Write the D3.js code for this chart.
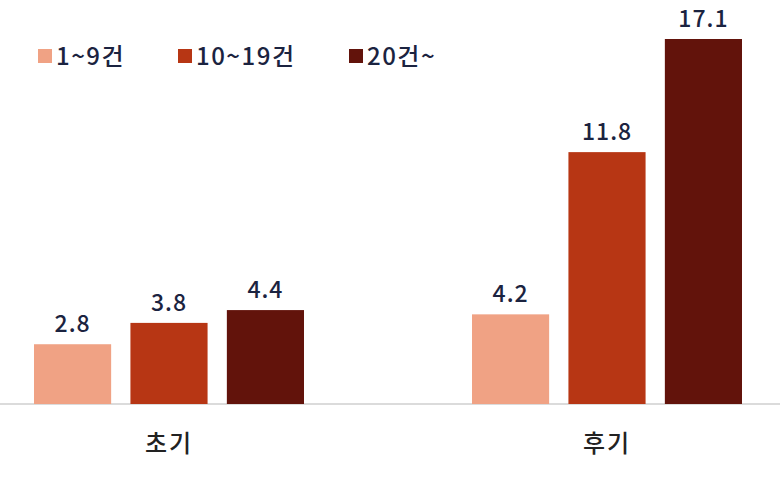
<!DOCTYPE html>
<html><head><meta charset="utf-8">
<script src="https://cdn.jsdelivr.net/npm/d3@7"></script>
<style>body{margin:0;background:#fff}</style>
</head><body>
<svg id="c" width="780" height="480"></svg>
<script>
var groups = ["초기", "후기"];
var series = ["1~9건", "10~19건", "20건~"];
var values = [[2.8, 3.8, 4.4], [4.2, 11.8, 17.1]];
var colors = ["#F0A284", "#B73614", "#62130B"];

var svg = d3.select("#c");
var font = "'Noto Sans CJK KR', sans-serif";
var base = 404;

var x0 = d3.scaleBand().domain(groups).range([-50, 826]);
var x1 = d3.scaleBand().domain(series).range([0, 270]).paddingInner(0.2);
var y = d3.scaleLinear().domain([0, 17.1]).range([base, 39]);

svg.append("line").attr("x1", 0).attr("x2", 780).attr("y1", base).attr("y2", base)
	.attr("stroke", "#cfcfcf").attr("stroke-width", 1.5);

groups.forEach(function (g, gi) {
	var off = x0(g) + x0.bandwidth() / 2 - 135;
	series.forEach(function (s, si) {
		var v = values[gi][si];
		svg.append("rect").attr("x", off + x1(s)).attr("y", y(v))
			.attr("width", x1.bandwidth()).attr("height", base - y(v)).attr("fill", colors[si]);
		svg.append("text").attr("x", off + x1(s) + x1.bandwidth() / 2).attr("y", y(v) - 12)
			.attr("text-anchor", "middle").attr("font-family", font).attr("font-size", 23)
			.attr("font-weight", 500).attr("letter-spacing", 1)
			.attr("fill", "#1B2340").text(v.toFixed(1));
	});
	svg.append("text").attr("x", x0(g) + x0.bandwidth() / 2).attr("y", 452)
		.attr("text-anchor", "middle").attr("font-family", font).attr("font-size", 24)
		.attr("font-weight", 500).attr("letter-spacing", 2)
		.attr("fill", "#222").text(g);
});

var legX = [38, 178, 349];
series.forEach(function (s, i) {
	svg.append("rect").attr("x", legX[i]).attr("y", 49).attr("width", 14).attr("height", 14).attr("fill", colors[i]);
	svg.append("text").attr("x", legX[i] + 18).attr("y", 65).attr("font-family", font).attr("font-size", 24)
		.attr("font-weight", 500).attr("letter-spacing", 1.5)
		.attr("fill", "#1B2340").text(s);
});
</script>
</body></html>
